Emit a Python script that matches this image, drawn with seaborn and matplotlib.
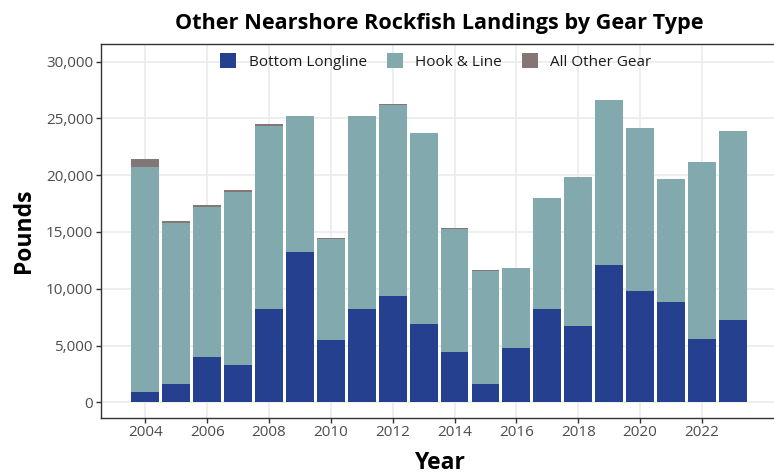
import matplotlib
matplotlib.use("Agg")
import matplotlib.pyplot as plt
from matplotlib.patches import Patch
import seaborn as sns
import numpy as np
import pandas as pd

# --- data ---
years = list(range(2004, 2024))
bottom_longline = [900, 1650, 4000, 3250, 8200, 13200, 5450, 8200, 9350, 6900,
                   4450, 1600, 4800, 8200, 6750, 12100, 9800, 8800, 5600, 7250]
hook_and_line = [19850, 14150, 13200, 15300, 16150, 12000, 8950, 17000, 16850, 16800,
                 10850, 10000, 7000, 9800, 13050, 14500, 14350, 10850, 15550, 16650]
all_other_gear = [650, 150, 150, 120, 120, 30, 40, 20, 80, 60,
                  20, 30, 20, 20, 60, 20, 20, 20, 20, 20]

gear_names = ['Bottom Longline', 'Hook & Line', 'All Other Gear']
gear_colors = ['#24408E', '#82A9AD', '#857676']

df = pd.DataFrame({'Year': years, 'Bottom Longline': bottom_longline,
                   'Hook & Line': hook_and_line, 'All Other Gear': all_other_gear})
# cumulative tops so overlapping bars look stacked
df['top_bl'] = df['Bottom Longline']
df['top_hl'] = df['top_bl'] + df['Hook & Line']
df['top_all'] = df['top_hl'] + df['All Other Gear']

sns.set_theme(style="whitegrid")
plt.rcParams['font.family'] = ['Open Sans', 'DejaVu Sans']

fig = plt.figure(figsize=(7.74, 4.74), dpi=100)
ax = fig.add_axes([100.7 / 774, 1 - 417.7 / 474, 676.8 / 774, 373.4 / 474])

for col, color in zip(['top_all', 'top_hl', 'top_bl'], gear_colors[::-1]):
    sns.barplot(data=df, x='Year', y=col, native_scale=True, width=0.9,
                color=color, saturation=1, errorbar=None, linewidth=0, ax=ax)

ax.set_xlim(2002.555, 2024.445)
ax.set_ylim(-1356, 31530)
ax.set_xticks(range(2004, 2023, 2))
ax.set_yticks(range(0, 30001, 5000))
ax.yaxis.set_major_formatter(matplotlib.ticker.FuncFormatter(lambda v, p: f"{int(v):,}"))

ax.grid(True, color='#EBEBEB', linewidth=1.2)
ax.set_axisbelow(True)
ax.set_facecolor('white')
for side in ['left', 'bottom', 'top']:
    ax.spines[side].set_color('#333333')
    ax.spines[side].set_linewidth(1.0)
ax.spines['right'].set_visible(False)
ax.tick_params(axis='both', which='major', length=3.5, width=1, color='#333333',
               labelcolor='#4D4D4D', labelsize=11, pad=2, left=True, bottom=True)

ax.set_xlabel('Year', fontsize=16.5, fontweight='bold', color='black', labelpad=8)
ax.set_ylabel('Pounds', fontsize=16.5, fontweight='bold', color='black', labelpad=7)
ax.set_title('Other Nearshore Rockfish Landings by Gear Type', fontsize=15.6,
             fontweight='bold', color='black', pad=11)

handles = [Patch(facecolor=c, edgecolor='none') for c in gear_colors]
leg = ax.legend(handles, gear_names, loc='upper center', bbox_to_anchor=(0.495, 1.0),
                ncol=3, frameon=False, fontsize=11, handlelength=1.05,
                handleheight=1.05, handletextpad=0.8, columnspacing=1.3,
                borderaxespad=0.2)
for t in leg.get_texts():
    t.set_color('#1A1A1A')

plt.savefig('out.png', dpi=100)
plt.close()
